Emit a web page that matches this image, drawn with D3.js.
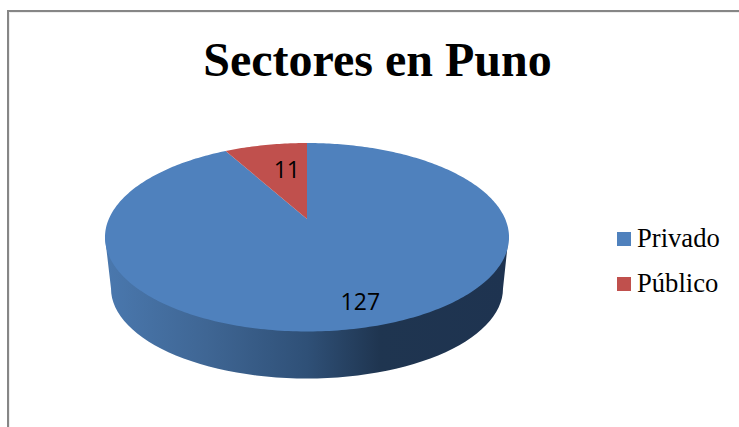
<!DOCTYPE html>
<html><head><meta charset="utf-8">
<script src="https://cdn.jsdelivr.net/npm/d3@7"></script>
<style>html,body{margin:0;padding:0;background:#fff;overflow:hidden}svg{display:block}</style>
</head><body><svg id="c" width="739" height="427"></svg>
<script>
const categories = ["Privado", "Público"];
const values = [127, 11];
const colors = ["#4f81bd", "#c0504d"];
const titleText = "Sectores en Puno";

const svg = d3.select("#c");
// chart frame (left and top edges visible)
svg.append("path").attr("d", "M8,427V11H739").attr("fill", "none").attr("stroke", "#868686").attr("stroke-width", 2);
svg.append("path").attr("d", "M9.5,427V12.5H739").attr("fill", "none").attr("stroke", "#eeeeee").attr("stroke-width", 1);

svg.append("text").attr("x", 377.5).attr("y", 76).attr("text-anchor", "middle")
  .attr("font-family", "'Liberation Serif'").attr("font-weight", "bold").attr("font-size", 48).attr("fill", "#000").text(titleText);

// perspective projection of the unit disc onto the pie's top face
const cx = 307, A = 198.2, a = 48.3, b = 219, c = -0.1936;
const proj = (ang, r = 1) => {
  const u = Math.sin(ang) * r, v = -Math.cos(ang) * r, w = 1 + c * v;
  return [cx + A * u / w, (a * v + b) / w];
};
const pie = d3.pie().sort(null)(values);
const line = d3.line();

const defs = svg.append("defs");
const g = defs.append("linearGradient").attr("id", "side").attr("gradientUnits", "userSpaceOnUse")
  .attr("x1", 105).attr("x2", 509).attr("y1", 0).attr("y2", 0);
[[0, "#4a78ae"], [0.25, "#3f6694"], [0.5, "#2f5077"], [0.68, "#1f3550"], [1, "#1e3350"]]
  .forEach(s => g.append("stop").attr("offset", s[0]).attr("stop-color", s[1]));

// side wall: hull of the top ellipse's widest chord and the lower rim
const rimCy = 288.5, rimRx = 196, rimRy = 90;
const rim = d3.range(0, 181, 3).map(t => {
  const r = t * Math.PI / 180;
  return [cx + rimRx * Math.cos(r), rimCy + rimRy * Math.sin(r)];
});
svg.append("path").attr("d", line([[508.5, 237], ...rim, [105, 237]]) + "Z").attr("fill", "url(#side)");

// top-face slices
pie.forEach((d, i) => {
  const n = Math.max(8, Math.round((d.endAngle - d.startAngle) * 60));
  const pts = d3.range(n + 1).map(k => proj(d.startAngle + (d.endAngle - d.startAngle) * k / n));
  svg.append("path").attr("d", line([proj(0, 0), ...pts]) + "Z").attr("fill", colors[i]);
});

// value labels
const labelR = [0.794, 0.63];
pie.forEach((d, i) => {
  const p = proj((d.startAngle + d.endAngle) / 2, labelR[i]);
  svg.append("text").attr("x", p[0] + 7.5).attr("y", p[1] + 9).attr("text-anchor", "middle")
    .attr("font-family", "'Open Sans'").attr("font-size", 23).attr("fill", "#000").text(d.value);
});

// legend
const legendY = d3.scalePoint().domain(categories).range([239, 284]);
categories.forEach((n, i) => {
  svg.append("rect").attr("x", 617).attr("y", legendY(n) - 7).attr("width", 14).attr("height", 14).attr("fill", colors[i]);
  svg.append("text").attr("x", 637).attr("y", legendY(n) + 8).attr("font-family", "'Liberation Serif'")
    .attr("font-size", 26.6).attr("fill", "#000").text(n);
});
</script></body></html>
